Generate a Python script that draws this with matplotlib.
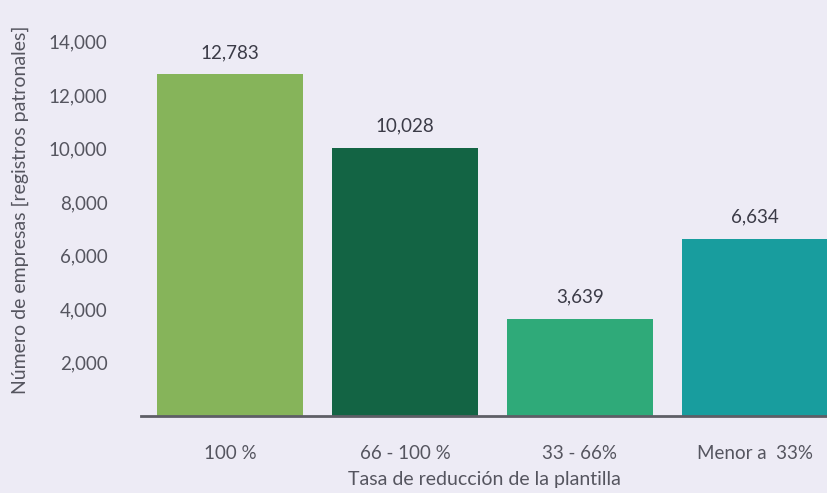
import numpy as np
import matplotlib.pyplot as plt

##-- data --##
categorias = ['100 %', '66 - 100 %', '33 - 66%', 'Menor a  33%']
empresas = [12783, 10028, 3639, 6634]
colores = ['#86B45A', '#136444', '#2FAA79', '#189D9E']
yticks = [2000, 4000, 6000, 8000, 10000, 12000, 14000]

fondo = '#EDEBF5'
gris = '#55555F'
plt.rcParams['font.family'] = ['Lato', 'DejaVu Sans']

fig = plt.figure(figsize=(8.28, 4.93), dpi=100, facecolor=fondo)
ax = fig.add_axes([141/828, 77/493, 687/828, (493-15)/493 - 77/493])
ax.set_facecolor(fondo)

x = np.arange(len(categorias))
ax.bar(x, empresas, width=0.835, color=colores, zorder=2)

#-- value labels above bars --#
for xi, v in zip(x, empresas):
    ax.text(xi, v + 500, f'{v:,}', ha='center', va='bottom',
            fontsize=13.5, color='#3B3B47')

ax.set_xlim(-0.509, 3.4175)
ax.set_ylim(0, 15000)
ax.set_yticks(yticks)
ax.set_yticklabels([f'{t:,}' for t in yticks])
ax.set_xticks(x)
ax.set_xticklabels(categorias)

ax.tick_params(axis='both', length=0, labelsize=13.5, labelcolor=gris)
ax.tick_params(axis='y', pad=24)
ax.tick_params(axis='x', pad=21)

for s in ['top', 'right', 'left']:
    ax.spines[s].set_visible(False)
ax.spines['bottom'].set_color('#5E5E66')
ax.spines['bottom'].set_linewidth(2)
ax.spines['bottom'].set_zorder(3)

ax.set_ylabel('Número de empresas [registros patronales]', fontsize=14,
              color=gris)
ax.yaxis.set_label_coords(-0.163, 0.515)
ax.set_xlabel('Tasa de reducción de la plantilla', fontsize=14,
              color=gris, labelpad=6)

fig.savefig('out.png', dpi=100, facecolor=fondo)
